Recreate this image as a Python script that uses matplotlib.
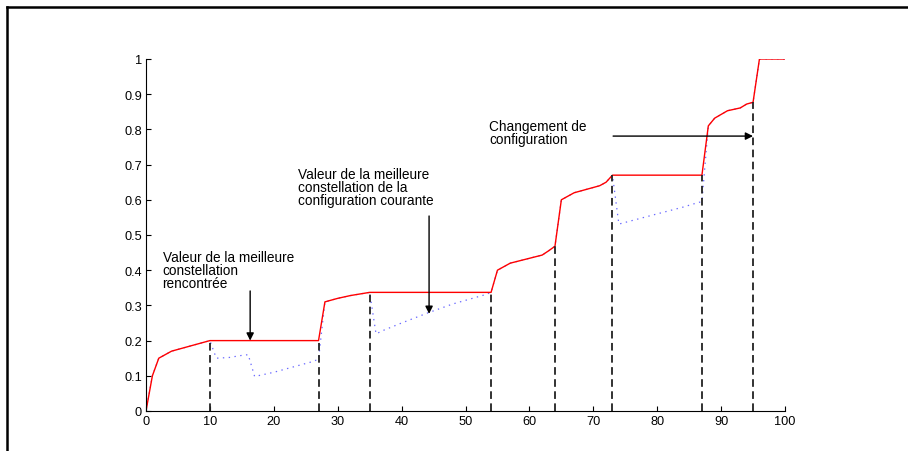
import matplotlib
matplotlib.use("Agg")
import matplotlib.pyplot as plt
from matplotlib.lines import Line2D
import numpy as np

plt.rcParams['font.family'] = ['Liberation Sans', 'DejaVu Sans']
plt.rcParams['lines.scale_dashes'] = False

# iteration index
x = [0, 1, 2, 4, 10, 11, 13, 15, 16, 17, 20, 23, 26, 27, 28, 30, 32, 33, 35,
     36, 37, 40, 44, 48, 53, 54, 55, 57, 62, 63, 64, 65, 67, 71, 72, 73,
     74, 80, 84, 86, 87, 88, 89, 91, 93, 94, 95, 96, 100]
# best constellation value found so far (red)
best = [0, 0.10, 0.15, 0.17, 0.20, 0.20, 0.20, 0.20, 0.20, 0.20, 0.20, 0.20, 0.20, 0.20,
        0.31, 0.32, 0.328, 0.331, 0.337,
        0.337, 0.337, 0.337, 0.337, 0.337, 0.337, 0.337, 0.40, 0.42, 0.443, 0.455, 0.468,
        0.60, 0.62, 0.64, 0.65, 0.67,
        0.67, 0.67, 0.67, 0.67, 0.67, 0.81, 0.832, 0.853, 0.861, 0.872, 0.877, 1.0, 1.0]
# best constellation value of the current configuration (blue dotted)
current = [0, 0.10, 0.15, 0.17, 0.20, 0.15, 0.152, 0.158, 0.16, 0.098, 0.11, 0.125, 0.14, 0.147,
           0.31, 0.32, 0.328, 0.331, 0.337,
           0.219, 0.228, 0.25, 0.278, 0.304, 0.33, 0.337, 0.40, 0.42, 0.443, 0.455, 0.468,
           0.60, 0.62, 0.64, 0.65, 0.67,
           0.531, 0.56, 0.579, 0.59, 0.595, 0.81, 0.832, 0.853, 0.861, 0.872, 0.877, 1.0, 1.0]
# configuration changes
changes = [10, 27, 35, 54, 64, 73, 87, 95]

xticks = list(range(0, 101, 10))
yticks = [0, 0.1, 0.2, 0.3, 0.4, 0.5, 0.6, 0.7, 0.8, 0.9, 1]
ylabels = ['0', '0.1', '0.2', '0.3', '0.4', '0.5', '0.6', '0.7', '0.8', '0.9', '1']

fig = plt.figure(figsize=(9.08, 4.52), dpi=100)
ax = fig.add_axes([146/908, 40/452, (785-146)/908, (412-60)/452])

ax.plot(x, current, color='#6a6aff', linestyle=(0, (1, 3.2)), linewidth=0.9)
ax.plot(x, best, color='red', linewidth=1.0)
tops = np.interp(changes, x, best)
for cx, ty in zip(changes, tops):
    ax.plot([cx, cx], [0, ty], color='#222222', linewidth=1.3, dashes=(5.5, 3.2))

ax.set_xlim(0, 100)
ax.set_ylim(0, 1)
ax.set_xticks(xticks)
ax.set_yticks(yticks)
ax.set_yticklabels(ylabels)
ax.tick_params(direction='in', length=3.5, width=0.8, labelsize=9.2, pad=3)
for s in ['top', 'right']:
    ax.spines[s].set_visible(False)
for s in ['left', 'bottom']:
    ax.spines[s].set_linewidth(0.8)

arrow = dict(arrowstyle='-|>', color='black', lw=1.0,
             mutation_scale=11, shrinkA=0, shrinkB=0)
fs = 9.8
ls = 0.92
ax.annotate('', xy=(16.3, 0.2), xytext=(16.3, 0.341), arrowprops=arrow)
ax.text(2.6, 0.458, 'Valeur de la meilleure\nconstellation\nrencontrée',
        fontsize=fs, va='top', ha='left', linespacing=ls)
ax.annotate('', xy=(44.3, 0.276), xytext=(44.3, 0.554), arrowprops=arrow)
ax.text(23.8, 0.693, 'Valeur de la meilleure\nconstellation de la\nconfiguration courante',
        fontsize=fs, va='top', ha='left', linespacing=ls)
ax.annotate('', xy=(95.0, 0.781), xytext=(73.1, 0.781), arrowprops=arrow)
ax.text(53.7, 0.83, 'Changement de\nconfiguration',
        fontsize=fs, va='top', ha='left', linespacing=ls)

# outer frame (left and top edges)
fig.add_artist(Line2D([6.5/908, 6.5/908], [0, 1 - 8/452], transform=fig.transFigure,
                      color='black', linewidth=1.8))
fig.add_artist(Line2D([6.5/908, 1], [1 - 8/452, 1 - 8/452], transform=fig.transFigure,
                      color='black', linewidth=1.8))

fig.savefig('out.png', dpi=100)
